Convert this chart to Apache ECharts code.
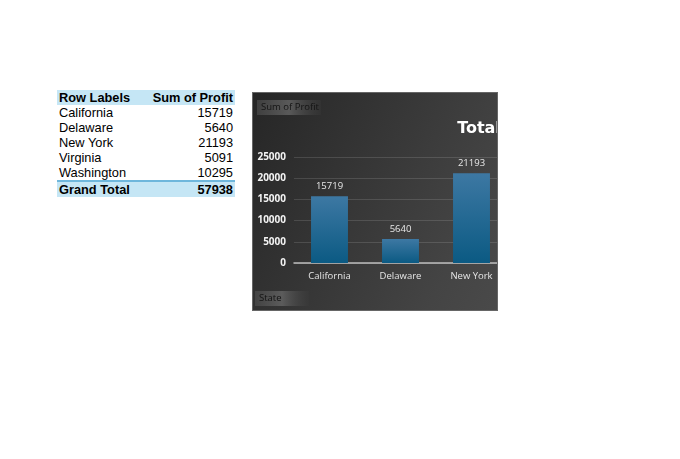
<!DOCTYPE html>
<html><head><meta charset="utf-8">
<script src="https://cdn.jsdelivr.net/npm/echarts@6/dist/echarts.min.js"></script>
<style>
html,body{margin:0;padding:0;background:#fff;width:680px;height:459px;overflow:hidden;}
#tbl{position:absolute;left:57px;top:90px;border-collapse:collapse;font-family:"Liberation Sans",Arial,sans-serif;font-size:12.8px;color:#000;}
#tbl td{padding:0 2px;height:15px;line-height:15px;white-space:nowrap;}
#tbl td.v{text-align:right;}
#tbl tr.hd td{background:#c5e6f5;font-weight:bold;}
#tbl tr.gt td{background:#c5e6f5;font-weight:bold;border-top:2px solid #6fb7dc;}
#clip{position:absolute;left:252px;top:92px;width:246px;height:219px;overflow:hidden;border:1px solid #666;box-sizing:border-box;}
#chart{position:absolute;left:-1px;top:-1px;width:454px;height:219px;}
</style></head>
<body>
<table id="tbl"></table>
<div id="clip"><div id="chart"></div></div>
<script>
const rowHeader = "Row Labels";
const valueHeader = "Sum of Profit";
const states = ["California", "Delaware", "New York", "Virginia", "Washington"];
const profits = [15719, 5640, 21193, 5091, 10295];
const grandTotalLabel = "Grand Total";
const grandTotal = 57938;
const yTicks = [0, 5000, 10000, 15000, 20000, 25000];
const chartTitle = "Total";
const fieldButtonValue = "Sum of Profit";
const fieldButtonAxis = "State";

// Pivot table
const tbl = document.getElementById('tbl');
function addRow(cls, a, b){
  const tr = document.createElement('tr'); if(cls) tr.className = cls;
  const td1 = document.createElement('td'); td1.textContent = a; td1.style.width = '84px';
  const td2 = document.createElement('td'); td2.textContent = b; td2.className = 'v'; td2.style.width = '86px';
  tr.appendChild(td1); tr.appendChild(td2); tbl.appendChild(tr);
}
addRow('hd', rowHeader, valueHeader);
states.forEach((s,i)=>addRow('', s, String(profits[i])));
addRow('gt', grandTotalLabel, String(grandTotal));

// Chart
const chart = echarts.init(document.getElementById('chart'), null, {renderer:'canvas'});
const font = '"Open Sans","Noto Sans",sans-serif';
function fieldButton(x, y, w, h, txt){
  return {
    type:'group', left:x, top:y,
    children:[
      {type:'rect', shape:{x:0,y:0,width:w,height:h},
        style:{fill:new echarts.graphic.LinearGradient(0,0,1,0,[
          {offset:0,color:'rgba(80,80,80,0.6)'},{offset:0.5,color:'rgba(105,105,105,0.75)'},{offset:1,color:'rgba(60,60,60,0.3)'}])}},
      {type:'text', x:4, y:h/2, style:{text:txt, fill:'#141414', font:'9.5px '+font, verticalAlign:'middle'}}
    ]
  };
}
chart.setOption({
  animation:false,
  backgroundColor:new echarts.graphic.LinearGradient(0,0,1,1,[
    {offset:0,color:'#262626'},{offset:0.5,color:'#444444'},{offset:1,color:'#5a5a5a'}]),
  title:{text:chartTitle, left:'center', top:24,
    textStyle:{color:'#ffffff', fontSize:16, fontWeight:'bold', fontFamily:'"DejaVu Sans",sans-serif'}},
  grid:{left:42, right:57, top:65, bottom:48, containLabel:false},
  xAxis:{type:'category', data:states,
    axisLine:{lineStyle:{color:'#bdbdbd', width:1.5}},
    axisTick:{show:false},
    axisLabel:{color:'#e6e6e6', fontSize:9.5, fontFamily:font, margin:8}},
  yAxis:{type:'value', min:yTicks[0], max:yTicks[yTicks.length-1], interval:yTicks[1]-yTicks[0],
    axisLine:{show:false}, axisTick:{show:false},
    splitLine:{lineStyle:{color:'rgba(255,255,255,0.13)', width:1}},
    axisLabel:{color:'#f2f2f2', fontSize:10, fontWeight:'bold', fontFamily:font, margin:8,
      formatter:function(v){return String(v);}}},
  series:[{type:'bar', data:profits, barWidth:'52%',
    itemStyle:{color:new echarts.graphic.LinearGradient(0,0,0,1,[
      {offset:0,color:'#3d78a3'},{offset:1,color:'#0b5a83'}])},
    label:{show:true, position:'top', distance:5, color:'#e8e8e8', fontSize:9.5, fontFamily:font}}],
  graphic:[
    fieldButton(5, 8, 64, 15, fieldButtonValue),
    fieldButton(3, 199, 54, 15, fieldButtonAxis)
  ]
});
</script>
</body></html>
